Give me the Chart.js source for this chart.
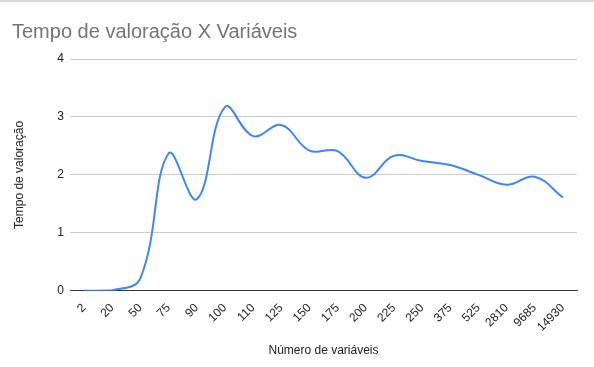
<!DOCTYPE html>
<html>
<head>
<meta charset="utf-8">
<script src="https://cdn.jsdelivr.net/npm/chart.js@4.4.1/dist/chart.umd.min.js"></script>
<style>
  html, body { margin: 0; padding: 0; background: #fff; }
  #wrap { position: relative; width: 594px; height: 367px; }
  #topline { position: absolute; left: 0; top: 0; width: 594px; height: 2px; background: #d9d9d9; }
</style>
</head>
<body>
<div id="wrap">
  <div id="topline"></div>
  <canvas id="graficoTempo" width="594" height="367"></canvas>
</div>
<script>
// Categorias (número de variáveis) e tempos
const variaveis = ["2", "20", "50", "75", "90", "100", "110", "125", "150", "175",
  "200", "225", "250", "375", "525", "2810", "9685", "14930"];
const tempos = [0, 0.01, 0.22, 2.37, 1.58, 3.17, 2.67, 2.86, 2.42, 2.41,
  1.95, 2.33, 2.24, 2.17, 2.0, 1.83, 1.97, 1.61];
const ticksY = [0, 1, 2, 3, 4];

const fonte = "Arial, 'Liberation Sans', sans-serif";

const ctx = document.getElementById("graficoTempo").getContext("2d");

const config = {
  type: "line",
  data: {
    labels: variaveis,
    datasets: [
      {
        label: "Tempo de valoração",
        data: tempos,
        borderColor: "#4285f4",
        backgroundColor: "#4285f4",
        borderWidth: 2,
        pointRadius: 0,
        tension: 0.4,
        fill: false,
      },
    ],
  },
  options: {
    responsive: false,
    animation: false,
    layout: { padding: { left: 12, right: 17, top: 9, bottom: 9 } },
    plugins: {
      legend: { display: false },
      tooltip: { enabled: false },
      title: {
        display: true,
        text: "Tempo de valoração X Variáveis",
        align: "start",
        color: "#757575",
        font: { family: fonte, size: 20, weight: "normal" },
        padding: { top: 11, bottom: 15 },
      },
    },
    scales: {
      x: {
        offset: true,
        grid: { display: false },
        border: { display: true, color: "#333333", width: 1 },
        ticks: {
          autoSkip: false,
          maxRotation: 45,
          minRotation: 45,
          color: "#222222",
          font: { family: fonte, size: 12 },
          padding: 2,
        },
        title: {
          display: true,
          text: "Número de variáveis",
          color: "#222222",
          font: { family: fonte, size: 12 },
          padding: { top: 7, bottom: 0 },
        },
      },
      y: {
        min: 0,
        max: 4,
        afterBuildTicks: (scale) => {
          scale.ticks = ticksY.map((v) => ({ value: v }));
        },
        afterFit: (scale) => {
          scale.width = 58;
        },
        grid: { color: "#cccccc", drawTicks: false },
        border: { display: false },
        ticks: {
          color: "#222222",
          font: { family: fonte, size: 12 },
          padding: 6,
        },
        title: {
          display: true,
          text: "Tempo de valoração",
          color: "#222222",
          font: { family: fonte, size: 12 },
          padding: { top: 0, bottom: 14 },
        },
      },
    },
  },
};

const grafico = new Chart(ctx, config);
</script>
</body>
</html>
